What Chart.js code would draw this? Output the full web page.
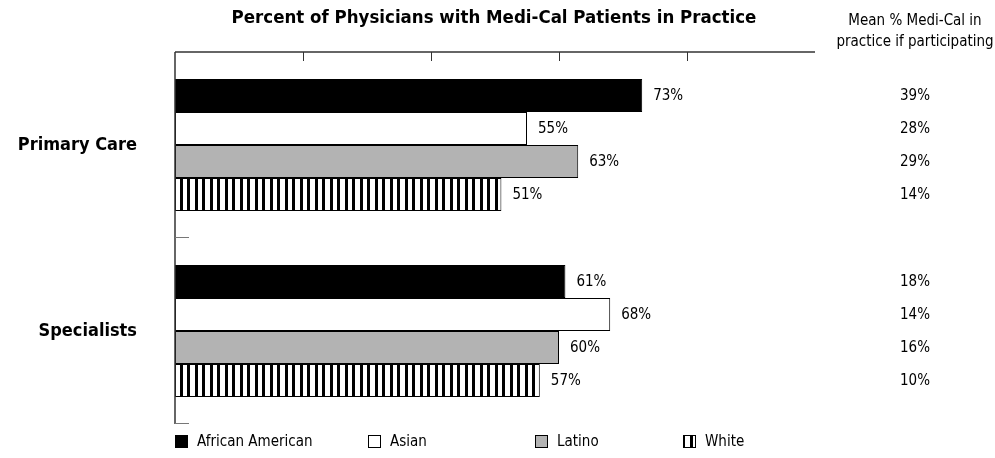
<!DOCTYPE html>
<html>
<head>
<meta charset="utf-8">
<script src="https://cdn.jsdelivr.net/npm/chart.js@4"></script>
<style>
  body { margin: 0; background: #fff; }
  #wrap { width: 995px; height: 458px; }
</style>
</head>
<body>
<div id="wrap"><canvas id="myChart"></canvas></div>
<script>
const categories = ["Primary Care", "Specialists"];
const seriesNames = ["African American", "Asian", "Latino", "White"];

// percent of physicians with Medi-Cal patients
const africanAmerican = [73, 61];
const asian = [55, 68];
const latino = [63, 60];
const white = [51, 57];

// mean % Medi-Cal in practice if participating
const meanAfricanAmerican = [39, 18];
const meanAsian = [28, 14];
const meanLatino = [29, 16];
const meanWhite = [14, 10];

const xTicks = [0, 20, 40, 60, 80, 100];

const FONT = "'Liberation Sans Narrow', 'DejaVu Sans Condensed', Roboto, sans-serif";

// vertical stripes for the White series
function stripes() {
  const c = document.createElement("canvas");
  c.width = 15;
  c.height = 8;
  const g = c.getContext("2d");
  g.fillStyle = "#fff";
  g.fillRect(0, 0, 15, 8);
  g.fillStyle = "#000";
  g.fillRect(0, 0, 3, 8);
  g.fillRect(7, 0, 3, 8);
  return g.createPattern(c, "repeat");
}

const ctx = document.getElementById("myChart");

const decorations = {
  id: "decorations",
  afterDatasetsDraw(chart) {
    const g = chart.ctx;
    const xs = chart.scales.x;
    const ys = chart.scales.y;
    const area = chart.chartArea;
    g.save();

    // title
    g.fillStyle = "#000";
    g.font = "bold 18.5px " + FONT;
    g.textAlign = "center";
    g.textBaseline = "middle";
    g.fillText("Percent of Physicians with Medi-Cal Patients in Practice", 494, 18);

    // right column header
    g.font = "15px " + FONT;
    g.fillText("Mean % Medi-Cal in", 915, 21);
    g.fillText("practice if participating", 915, 42);

    // top axis
    g.strokeStyle = "#333";
    g.lineWidth = 1.5;
    g.beginPath();
    g.moveTo(xs.getPixelForValue(0), area.top);
    g.lineTo(xs.getPixelForValue(100), area.top);
    g.stroke();
    g.lineWidth = 1;
    xTicks.forEach((t) => {
      if (t === 0 || t === 100) return;
      const px = Math.round(xs.getPixelForValue(t)) + 0.5;
      g.beginPath();
      g.moveTo(px, area.top);
      g.lineTo(px, area.top + 9);
      g.stroke();
    });

    // left axis
    g.lineWidth = 1.5;
    g.beginPath();
    g.moveTo(area.left, area.top);
    g.lineTo(area.left, area.bottom);
    g.stroke();
    g.strokeStyle = "#777";
    g.lineWidth = 1;
    const step = (area.bottom - area.top) / categories.length;
    for (let i = 1; i <= categories.length; i++) {
      const py = Math.round(area.top + step * i) - 0.5;
      g.beginPath();
      g.moveTo(area.left, py);
      g.lineTo(area.left + 14, py);
      g.stroke();
    }

    // category labels
    g.fillStyle = "#000";
    g.font = "bold 18px " + FONT;
    g.textAlign = "right";
    categories.forEach((c, i) => {
      g.fillText(c, 137, ys.getPixelForValue(i));
    });

    // value labels and mean column
    const means = [meanAfricanAmerican, meanAsian, meanLatino, meanWhite];
    g.font = "15px " + FONT;
    chart.data.datasets.forEach((ds, di) => {
      const meta = chart.getDatasetMeta(di);
      meta.data.forEach((bar, i) => {
        g.textAlign = "left";
        g.fillText(ds.data[i] + "%", bar.x + 11, bar.y + 1);
        g.textAlign = "center";
        g.fillText(means[di][i] + "%", 915, bar.y + 1);
      });
    });

    // legend
    const legendX = [175, 368, 535, 683];
    const ly = 442;
    chart.data.datasets.forEach((ds, di) => {
      const lx = legendX[di];
      g.fillStyle = ds.backgroundColor;
      g.fillRect(lx, ly - 7, 13, 13);
      g.strokeStyle = "#000";
      g.lineWidth = 1;
      g.strokeRect(lx + 0.5, ly - 6.5, 12, 12);
      g.fillStyle = "#000";
      g.textAlign = "left";
      g.font = "15px " + FONT;
      g.fillText(ds.label, lx + 22, ly);
    });

    g.restore();
  },
};

const chart = new Chart(ctx, {
  type: "bar",
  data: {
    labels: categories,
    datasets: [
      { label: seriesNames[0], data: africanAmerican, backgroundColor: "#000" },
      { label: seriesNames[1], data: asian, backgroundColor: "#fff" },
      { label: seriesNames[2], data: latino, backgroundColor: "#b3b3b3" },
      { label: seriesNames[3], data: white, backgroundColor: stripes() },
    ],
  },
  options: {
    indexAxis: "y",
    responsive: true,
    maintainAspectRatio: false,
    animation: false,
    layout: {
      padding: { left: 175, right: 180, top: 52, bottom: 34 },
    },
    datasets: {
      bar: {
        borderColor: "#000",
        borderWidth: 1,
        borderSkipped: false,
        categoryPercentage: 0.71,
        barPercentage: 1.0,
      },
    },
    scales: {
      x: { display: false, min: 0, max: 100 },
      y: { display: false },
    },
    plugins: {
      legend: { display: false },
      tooltip: { enabled: false },
    },
  },
  plugins: [decorations],
});
</script>
</body>
</html>
